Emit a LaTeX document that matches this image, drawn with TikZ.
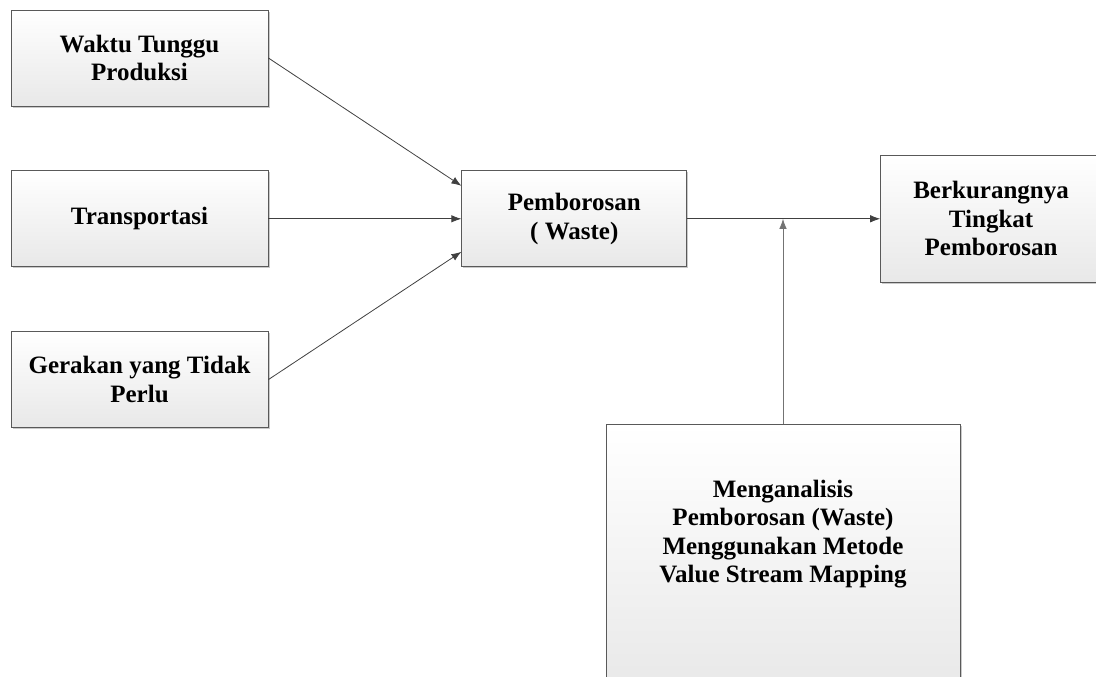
\documentclass[tikz,border=0pt]{standalone}
\usepackage{fontspec}
\setmainfont{Liberation Serif}
\usetikzlibrary{positioning,arrows.meta,shadows}

\begin{document}
\begin{tikzpicture}[x=1pt, y=-1pt, font=\bfseries\fontsize{25}{28.5}\selectfont, node distance=64pt and 193pt,
  box/.style={draw=black!65, line width=0.8pt, align=center, top color=white, bottom color=black!9,
    drop shadow={shadow xshift=1.6pt, shadow yshift=-1.6pt, fill=black!35, opacity=0.6}},
  src/.style={box, minimum width=257pt, minimum height=96pt},
  arr/.style={-{Latex[length=10pt, width=7.5pt]}, black!75, line width=0.8pt}]
\useasboundingbox (0,0) rectangle (1096,677);
\node[src] (waktu) at (139.5,58) {Waktu Tunggu\\Produksi};
\node[src, below=of waktu] (trans) {Transportasi};
\node[src, below=of trans] (gerak) {Gerakan yang Tidak\\Perlu};
\node[box, right=of trans, minimum width=225pt, minimum height=96pt] (pemb) {Pemborosan\\( Waste)};
\node[box, right=of pemb, minimum width=221pt, minimum height=127pt] (berk) {Berkurangnya\\Tingkat\\Pemborosan};
\node[box, anchor=north, minimum width=354pt, minimum height=270pt] (meng) at (783,424)
  {\begin{tabular}{@{}c@{}}Menganalisis\\Pemborosan (Waste)\\Menggunakan Metode\\Value Stream Mapping\\[50pt]\end{tabular}};
\draw[arr] (waktu.east) -- ([yshift=33pt]pemb.west);
\draw[arr] (trans.east) -- (pemb.west);
\draw[arr] (gerak.east) -- ([yshift=-33pt]pemb.west);
\draw[arr] (pemb.east) -- (berk.west);
\draw[arr, black!55] (meng.north) -- (meng.north |- pemb.east);
\end{tikzpicture}
\end{document}
